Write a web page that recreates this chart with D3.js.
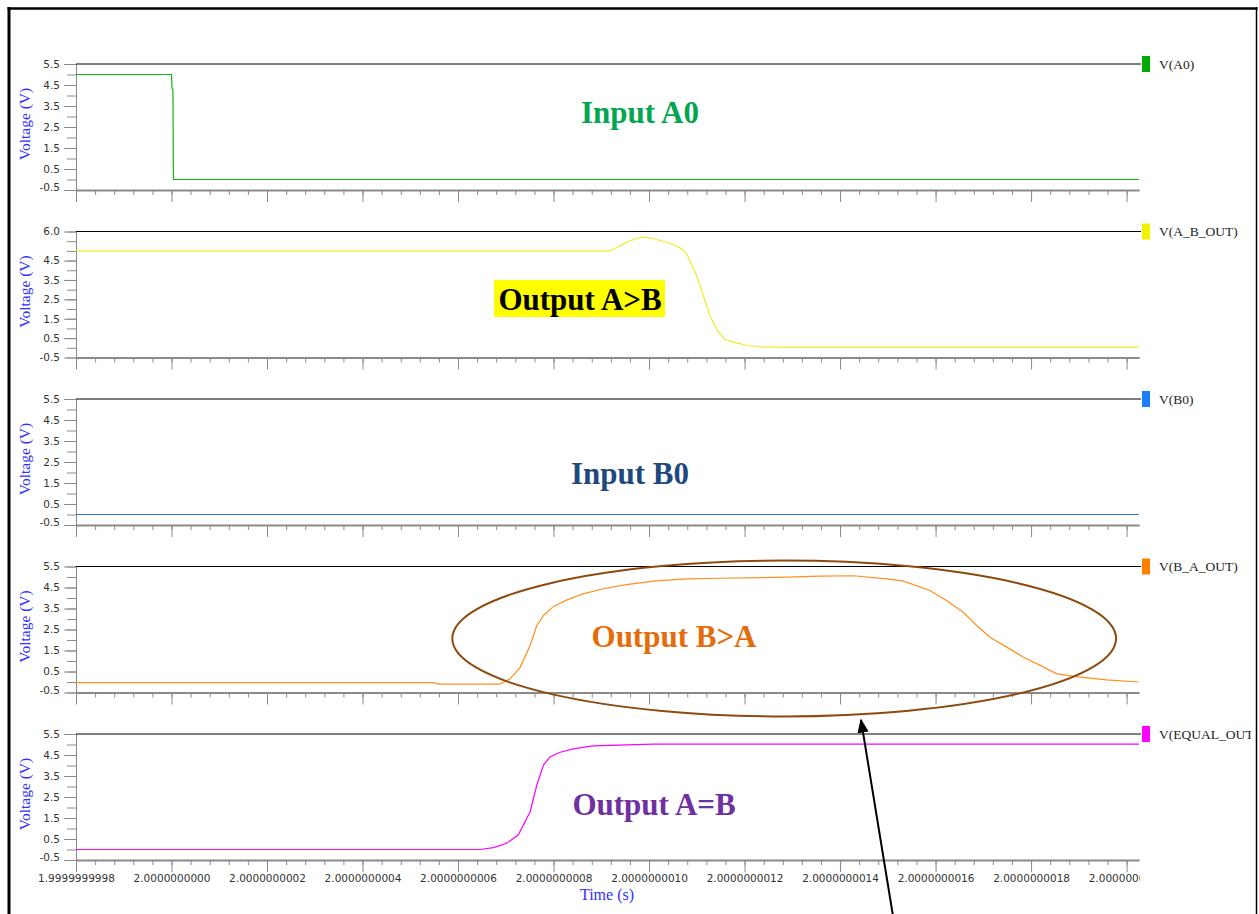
<!DOCTYPE html>
<html>
<head>
<meta charset="utf-8">
<script src="https://cdn.jsdelivr.net/npm/d3@7/dist/d3.min.js"></script>
<style>
    body { margin: 0; background: #fff; }
    svg { display: block; }
</style>
</head>
<body>
<svg id="chart" width="1259" height="914"></svg>
<script>
//Tid i ns efter 2 s. Alla spänningar i V.
let timeA0 = [-0.2, 0.0, 0.001, 0.003, 0.004, 2.026];
let voltA0 = [5.0, 5.0, 4.35, 4.3, 0.0, 0.0];

let timeAB = [-0.2, 0.918, 0.932, 0.953, 0.974, 0.992, 1.009, 1.044, 1.065, 1.079, 1.100, 1.128, 1.142, 1.159, 1.177, 1.205, 1.236, 1.274, 2.026];
let voltAB = [5.0, 5.0, 5.16, 5.45, 5.64, 5.71, 5.64, 5.38, 5.16, 4.86, 3.69, 1.63, 0.94, 0.43, 0.29, 0.12, 0.05, 0.04, 0.04];

let timeB0 = [-0.2, 2.026];
let voltB0 = [0.0, 0.0];

let timeBA = [-0.2, 0.548, 0.56, 0.688, 0.709, 0.730, 0.751, 0.765, 0.779, 0.800, 0.828, 0.862, 0.904, 0.953, 1.009, 1.079, 1.149, 1.288, 1.358, 1.428, 1.498, 1.533, 1.588, 1.623, 1.658, 1.686, 1.714, 1.749, 1.784, 1.819, 1.854, 1.903, 1.958, 2.025];
let voltBA = [-0.03, -0.03, -0.1, -0.1, 0.15, 0.70, 1.74, 2.69, 3.17, 3.60, 3.91, 4.20, 4.44, 4.64, 4.80, 4.91, 4.94, 4.99, 5.04, 5.06, 4.91, 4.80, 4.36, 3.88, 3.32, 2.69, 2.13, 1.66, 1.18, 0.79, 0.39, 0.23, 0.10, 0.0];

let timeEQ = [-0.2, 0.646, 0.674, 0.702, 0.726, 0.751, 0.765, 0.779, 0.793, 0.814, 0.841, 0.883, 0.953, 1.009, 1.232, 2.026];
let voltEQ = [0.0, 0.0, 0.09, 0.30, 0.69, 1.80, 3.07, 4.02, 4.42, 4.63, 4.79, 4.93, 4.98, 5.02, 5.02, 5.02];

//Tick-etiketter
let xTickValues = [-0.2, 0.0, 0.2, 0.4, 0.6, 0.8, 1.0, 1.2, 1.4, 1.6, 1.8, 2.0];
let xTickLabels = ["1.9999999998", "2.0000000000", "2.0000000002", "2.0000000004", "2.0000000006", "2.0000000008",
    "2.0000000010", "2.0000000012", "2.0000000014", "2.0000000016", "2.0000000018", "2.0000000020"];
let yTickValues = [5.5, 4.5, 3.5, 2.5, 1.5, 0.5, -0.5];
let yTickLabels = ["5.5", "4.5", "3.5", "2.5", "1.5", "0.5", "-0.5"];
let yTickValues6 = [6.0, 4.5, 3.5, 2.5, 1.5, 0.5, -0.5];
let yTickLabels6 = ["6.0", "4.5", "3.5", "2.5", "1.5", "0.5", "-0.5"];

let signalNames = ["V(A0)", "V(A_B_OUT)", "V(B0)", "V(B_A_OUT)", "V(EQUAL_OUT)"];

let svg = d3.select("#chart");
let left = 76;
let right = 1139;
let panelHeight = 126;
let axisGray = "#8a8a8a";

let x = d3.scaleLinear().domain([-0.2, 2.026]).range([left, right]);

//Klipp för texter som går utanför
let defs = svg.append("defs");
defs.append("clipPath").attr("id", "xClip")
    .append("rect").attr("x", 0).attr("y", -30).attr("width", right + 1).attr("height", 100);
defs.append("clipPath").attr("id", "legendClip")
    .append("rect").attr("x", 0).attr("y", 0).attr("width", 1251).attr("height", 914);
defs.append("marker").attr("id", "arrowHead")
    .attr("viewBox", "0 0 10 10").attr("refX", 9).attr("refY", 5)
    .attr("markerWidth", 7).attr("markerHeight", 7).attr("markerUnits", "strokeWidth")
    .attr("orient", "auto")
    .append("path").attr("d", "M0,1 L10,5 L0,9 z").attr("fill", "black");

let panels = [
    { time: timeA0, volt: voltA0, yMax: 5.5, ticks: yTickValues, labels: yTickLabels, line: "#14b414", key: "#00a800" },
    { time: timeAB, volt: voltAB, yMax: 6.0, ticks: yTickValues6, labels: yTickLabels6, line: "#eded2a", key: "#f2f200" },
    { time: timeB0, volt: voltB0, yMax: 5.5, ticks: yTickValues, labels: yTickLabels, line: "#2c7fd0", key: "#1a80ff" },
    { time: timeBA, volt: voltBA, yMax: 5.5, ticks: yTickValues, labels: yTickLabels, line: "#ff8f1f", key: "#ff8000" },
    { time: timeEQ, volt: voltEQ, yMax: 5.5, ticks: yTickValues, labels: yTickLabels, line: "#ff00ff", key: "#ff00ff" }
];

let yScales = [];

panels.forEach((panel, index) => {
    let top = 64 + index * 167.5;
    let bottom = top + panelHeight;
    let y = d3.scaleLinear().domain([-0.5, panel.yMax]).range([bottom, top]);
    yScales.push(y);
    let g = svg.append("g");

    //Små y-ticks var 0.5
    let minorY = d3.range(0, Math.round((panel.yMax + 0.5) / 0.5) + 1).map((i) => -0.5 + i * 0.5);
    g.append("g")
        .attr("transform", `translate(${left},0)`)
        .call(d3.axisLeft(y).tickValues(minorY).tickSize(9).tickSizeOuter(0).tickFormat(""));
    //Stora y-ticks med text
    let yAxis = g.append("g")
        .attr("transform", `translate(${left},0)`)
        .call(d3.axisLeft(y).tickValues(panel.ticks).tickSize(12).tickSizeOuter(0).tickPadding(4)
            .tickFormat((d, i) => panel.labels[i]));
    yAxis.selectAll("text")
        .attr("font-family", "DejaVu Sans")
        .attr("font-size", "10.5px")
        .attr("fill", "#333");
    //Nedersta etiketten lite uppflyttad som i originalet
    yAxis.selectAll("text").filter((d) => d === -0.5 && panel.yMax === 5.5).attr("dy", "0.05em");

    //x-axel, små och stora ticks
    let minorX = d3.range(0, 57).map((i) => -0.2 + i * 0.04).filter((d) => d <= 2.026);
    g.append("g")
        .attr("transform", `translate(0,${bottom})`)
        .call(d3.axisBottom(x).tickValues(minorX).tickSize(5).tickSizeOuter(0).tickFormat(""));
    let xAxis = g.append("g")
        .attr("transform", `translate(0,${bottom})`)
        .attr("clip-path", "url(#xClip)")
        .call(d3.axisBottom(x).tickValues(xTickValues).tickSize(12).tickSizeOuter(0).tickPadding(3)
            .tickFormat((d, i) => index === panels.length - 1 ? xTickLabels[i] : ""));
    xAxis.selectAll("text")
        .attr("font-family", "DejaVu Sans")
        .attr("font-size", "10.5px")
        .attr("fill", "#333");
    xAxis.select(".domain").attr("stroke-width", 2);

    g.selectAll(".domain").attr("stroke", axisGray);
    g.selectAll(".tick line").attr("stroke", axisGray);

    //Svart linje överst
    g.append("line")
        .attr("x1", left).attr("x2", right + 2)
        .attr("y1", top).attr("y2", top)
        .attr("stroke", "black").attr("stroke-width", 1);

    //Legend
    g.append("rect")
        .attr("x", 1142).attr("y", top - 8)
        .attr("width", 8).attr("height", 16)
        .attr("fill", panel.key);
    g.append("text")
        .attr("x", 1159).attr("y", top + 4.5)
        .attr("font-family", "Liberation Serif")
        .attr("font-size", "13.5px")
        .attr("fill", "#222")
        .attr("clip-path", "url(#legendClip)")
        .text(signalNames[index]);

    //Y-titel
    g.append("text")
        .attr("transform", `translate(30,${(top + bottom) / 2 - 3}) rotate(-90)`)
        .attr("text-anchor", "middle")
        .attr("font-family", "Liberation Serif")
        .attr("font-size", "15.5px")
        .attr("fill", "#3030ff")
        .text("Voltage (V)");

    //Själva kurvan
    let points = d3.zip(panel.time, panel.volt);
    g.append("path")
        .datum(points)
        .attr("d", d3.line().x((d) => x(d[0])).y((d) => y(d[1])))
        .attr("fill", "none")
        .attr("stroke", panel.line)
        .attr("stroke-width", 1.2);
});

//X-titel
svg.append("text")
    .attr("x", 607).attr("y", 900)
    .attr("text-anchor", "middle")
    .attr("font-family", "Liberation Serif")
    .attr("font-size", "16px")
    .attr("fill", "#3030ff")
    .text("Time (s)");

//Anteckningar
svg.append("rect")
    .attr("x", 494).attr("y", 280)
    .attr("width", 171).attr("height", 37)
    .attr("fill", "#ffff00");

let notes = [
    { text: "Input A0", x: 640, y: 123, color: "#00a650" },
    { text: "Output A>B", x: 580, y: 310, color: "#000000" },
    { text: "Input B0", x: 630, y: 484, color: "#1f497d" },
    { text: "Output B>A", x: 674, y: 647, color: "#e46c0a" },
    { text: "Output A=B", x: 654, y: 815, color: "#7030a0" }
];
notes.forEach((note) => {
    svg.append("text")
        .attr("x", note.x).attr("y", note.y)
        .attr("text-anchor", "middle")
        .attr("font-family", "Liberation Serif")
        .attr("font-weight", "bold")
        .attr("font-size", "31px")
        .attr("fill", note.color)
        .text(note.text);
});

//Ellipsen runt B>A, placerad med skalorna
let yBA = yScales[3];
svg.append("ellipse")
    .attr("cx", x(1.283))
    .attr("cy", yBA(2.07))
    .attr("rx", x(1.283 + 0.695) - x(1.283))
    .attr("ry", yBA(0) - yBA(3.71))
    .attr("fill", "none")
    .attr("stroke", "#8e4a0e")
    .attr("stroke-width", 2);

//Pilen
svg.append("line")
    .attr("x1", 893).attr("y1", 916)
    .attr("x2", 861).attr("y2", 720)
    .attr("stroke", "black")
    .attr("stroke-width", 2)
    .attr("marker-end", "url(#arrowHead)");

//Ram runt allt
svg.append("line").attr("x1", 9).attr("x2", 9).attr("y1", 7).attr("y2", 914)
    .attr("stroke", "black").attr("stroke-width", 3);
svg.append("line").attr("x1", 7.5).attr("x2", 1257.5).attr("y1", 8.5).attr("y2", 8.5)
    .attr("stroke", "black").attr("stroke-width", 2.5);
svg.append("line").attr("x1", 1256.5).attr("x2", 1256.5).attr("y1", 7).attr("y2", 914)
    .attr("stroke", "black").attr("stroke-width", 1.5);
</script>
</body>
</html>
